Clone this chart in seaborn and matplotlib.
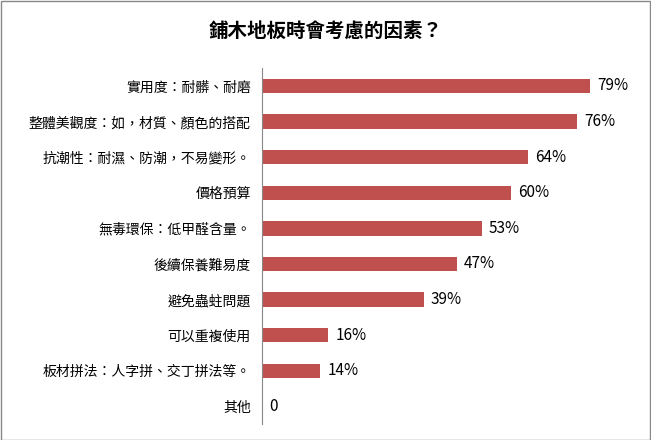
import matplotlib
matplotlib.use("Agg")
import matplotlib.pyplot as plt
import seaborn as sns
import pandas as pd

categories = ["實用度：耐髒、耐磨", "整體美觀度：如，材質、顏色的搭配", "抗潮性：耐濕、防潮，不易變形。",
              "價格預算", "無毒環保：低甲醛含量。", "後續保養難易度", "避免蟲蛀問題",
              "可以重複使用", "板材拼法：人字拼、交丁拼法等。", "其他"]
values = [79, 76, 64, 60, 53, 47, 39, 16, 14, 0]
value_labels = ["79%", "76%", "64%", "60%", "53%", "47%", "39%", "16%", "14%", "0"]

plt.rcParams["font.family"] = "Noto Sans CJK TC"
df = pd.DataFrame({"cat": categories, "val": values})
fig = plt.figure(figsize=(6.51, 4.40), dpi=100)
fig.patches.append(plt.Rectangle((0.001, 0.001), 0.997, 0.996, transform=fig.transFigure,
                                 fill=False, edgecolor="#888888", linewidth=1))
ax = fig.add_axes([0.4025, 0.036, 0.58, 0.809])
sns.barplot(data=df, x="val", y="cat", color="#C0504D", width=0.4, ax=ax, saturation=1)
ax.set_xlim(0, 91)
ax.set_ylim(len(categories) - 0.5, -0.5)
ax.set_xlabel(""); ax.set_ylabel("")
ax.set_xticks([])
for s in ["top", "right", "bottom"]:
    ax.spines[s].set_visible(False)
ax.spines["left"].set_color("#888888")
ax.tick_params(axis="y", length=0, pad=8, labelsize=10)
for i, (v, t) in enumerate(zip(values, value_labels)):
    ax.text(v + 1.7, i, t, va="center", ha="left", fontsize=11)
fig.text(0.5, 0.93, "鋪木地板時會考慮的因素？", ha="center", va="center", fontsize=14, fontweight="bold")
fig.savefig("out.png", dpi=100)
